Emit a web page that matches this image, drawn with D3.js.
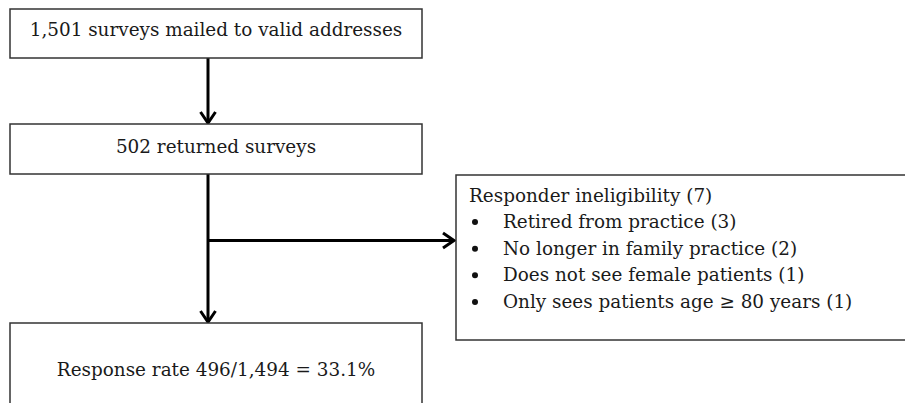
<!DOCTYPE html>
<html>
  <head>
    <meta charset="utf-8">
    <title>Survey response flow</title>
    <script src="https://d3js.org/d3.v7.min.js"></script>
    <style>
      body { margin: 0; background: #fff; }
      svg { display: block; }
      .box { fill: #fff; stroke: #333; stroke-width: 1.5; }
      .label { font-family: "DejaVu Serif", serif; fill: #1a1a1a; }
      .flow { stroke: #000; stroke-width: 3; fill: none; }
    </style>
  </head>
  <body>
    <svg id="chart" width="905" height="403"></svg>
    <script>
      // flow steps (main column)
      var steps = [
        "1,501 surveys mailed to valid addresses",
        "502 returned surveys",
        "Response rate 496/1,494 = 33.1%"
      ];
      // side box
      var sideTitle = "Responder ineligibility (7)";
      var sideItems = [
        "Retired from practice (3)",
        "No longer in family practice (2)",
        "Does not see female patients (1)",
        "Only sees patients age \u2265 80 years (1)"
      ];

      var fontSize = 18.4;
      var chart = d3.select("#chart");

      // layout of the boxes
      var col = { x0: 10, x1: 422, arrowX: 208 };
      var boxes = [
        { y0: 9, y1: 58, base: 36 },
        { y0: 124, y1: 174, base: 152.5 },
        { y0: 323, y1: 420, base: 375.5 }
      ];
      var side = { x0: 456, x1: 920, y0: 175, y1: 340, textX: 469, bulletX: 475, itemX: 503, base0: 201.5, step: 26.6 };
      var branchY = 240.5;

      function chevron(x, y, dir) {
        // open arrow head, tip at (x, y)
        var w = 7.5, h = 11;
        if (dir == "down") return "M" + (x - w) + "," + (y - h) + "L" + x + "," + y + "L" + (x + w) + "," + (y - h);
        return "M" + (x - h) + "," + (y - w) + "L" + x + "," + y + "L" + (x - h) + "," + (y + w);
      }

      var flow = chart.append("g");
      flow.append("path").attr("class", "flow")
        .attr("d", "M" + col.arrowX + "," + boxes[0].y1 + "V" + (boxes[1].y0 - 1));
      flow.append("path").attr("class", "flow")
        .attr("d", chevron(col.arrowX, boxes[1].y0 - 1, "down"));
      flow.append("path").attr("class", "flow")
        .attr("d", "M" + col.arrowX + "," + boxes[1].y1 + "V" + (boxes[2].y0 - 1));
      flow.append("path").attr("class", "flow")
        .attr("d", chevron(col.arrowX, boxes[2].y0 - 1, "down"));
      flow.append("path").attr("class", "flow")
        .attr("d", "M" + col.arrowX + "," + branchY + "H" + (side.x0 - 2));
      flow.append("path").attr("class", "flow")
        .attr("d", chevron(side.x0 - 2, branchY, "right"));

      var stepGroups = chart.selectAll(".step")
          .data(steps)
        .enter().append("g")
          .attr("class", "step");
      stepGroups.append("rect")
        .attr("class", "box")
        .attr("x", col.x0)
        .attr("y", function(d, i) { return boxes[i].y0; })
        .attr("width", col.x1 - col.x0)
        .attr("height", function(d, i) { return boxes[i].y1 - boxes[i].y0; });
      stepGroups.append("text")
        .attr("class", "label")
        .attr("x", (col.x0 + col.x1) / 2)
        .attr("y", function(d, i) { return boxes[i].base; })
        .attr("text-anchor", "middle")
        .style("font-size", fontSize + "px")
        .text(function(d) { return d; });

      var sideGroup = chart.append("g");
      sideGroup.append("rect")
        .attr("class", "box")
        .attr("x", side.x0)
        .attr("y", side.y0)
        .attr("width", side.x1 - side.x0)
        .attr("height", side.y1 - side.y0);
      sideGroup.append("text")
        .attr("class", "label")
        .attr("x", side.textX)
        .attr("y", side.base0)
        .style("font-size", fontSize + "px")
        .text(sideTitle);
      var items = sideGroup.selectAll(".item")
          .data(sideItems)
        .enter().append("g")
          .attr("class", "item")
          .attr("transform", function(d, i) { return "translate(0," + (side.base0 + side.step * (i + 1)) + ")"; });
      items.append("circle")
        .attr("cx", side.bulletX)
        .attr("cy", -6)
        .attr("r", 3)
        .attr("fill", "#111");
      items.append("text")
        .attr("class", "label")
        .attr("x", side.itemX)
        .style("font-size", fontSize + "px")
        .text(function(d) { return d; });
    </script>
  </body>
</html>
